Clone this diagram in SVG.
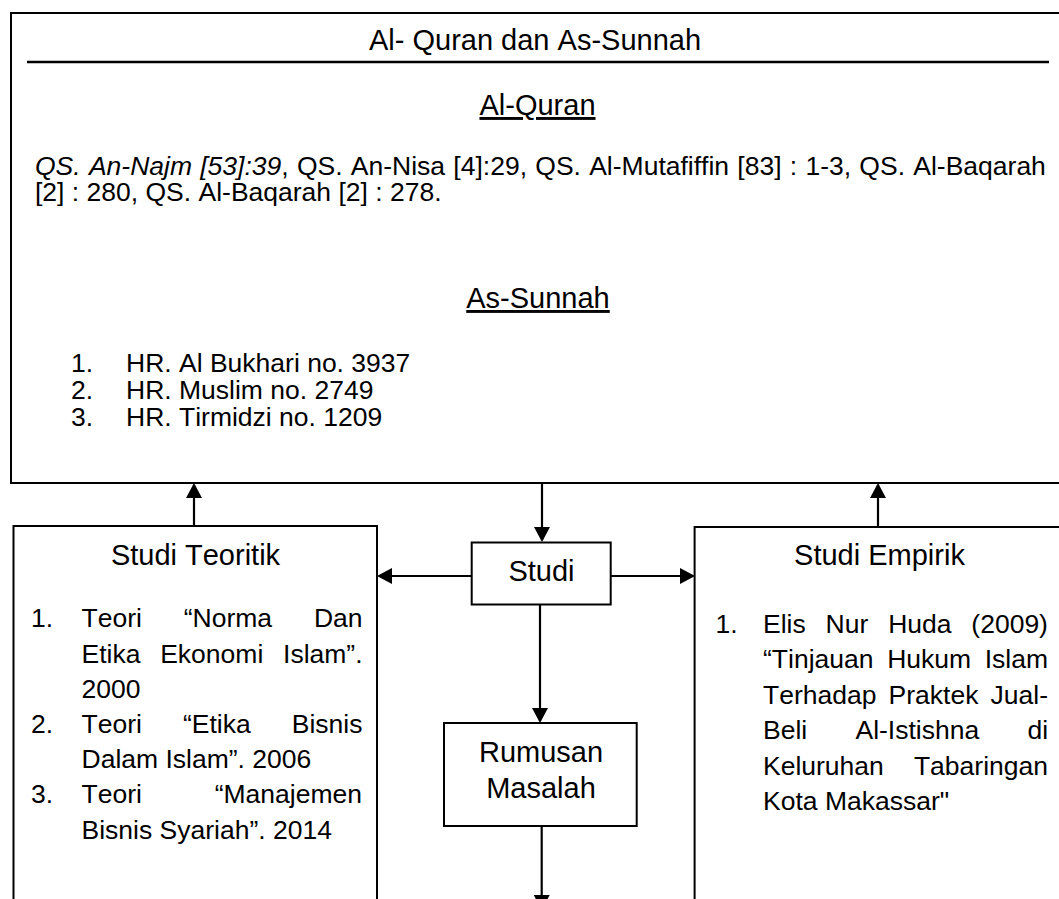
<svg xmlns="http://www.w3.org/2000/svg" width="1059" height="899" viewBox="0 0 1059 899">
<style>
text{font-family:"Liberation Sans",Arial,sans-serif;fill:#000;font-kerning:none}
.h{font-size:29px;text-anchor:middle}
.b{font-size:26.5px}
.e{text-anchor:end}
.box{fill:#fff;stroke:#000;stroke-width:2}
.sep{stroke:#000;stroke-width:2.6}
.con{stroke:#000;stroke-width:2.2;fill:none;marker-end:url(#ah)}
</style>
<defs>
<marker id="ah" viewBox="0 0 15 16" refX="13" refY="8" markerWidth="15" markerHeight="16" orient="auto" markerUnits="userSpaceOnUse">
<path d="M0,0 L15,8 L0,16 z" fill="#000"/>
</marker>
</defs>
<rect width="1059" height="899" fill="#fff"/>

<g id="node-quran-sunnah">
<rect class="box" x="11" y="13" width="1052" height="470"/>
<text class="h" x="535" y="50">Al- Quran dan As-Sunnah</text>
<line class="sep" x1="27" y1="62" x2="1049" y2="62"/>
<text class="h" x="537.5" y="115" text-decoration="underline">Al-Quran</text>
<text class="b" x="35" y="175" word-spacing="0.9"><tspan font-style="italic">QS. An-Najm [53]:39</tspan>, QS. An-Nisa [4]:29, QS. Al-Mutafiffin [83] : 1-3, QS. Al-Baqarah</text>
<text class="b" x="35" y="201">[2] : 280, QS. Al-Baqarah [2] : 278.</text>
<text class="h" x="538" y="308" text-decoration="underline">As-Sunnah</text>
<text class="b" x="71" y="372">1.</text>
<text class="b" x="126" y="372">HR. Al Bukhari no. 3937</text>
<text class="b" x="71" y="399">2.</text>
<text class="b" x="126" y="399">HR. Muslim no. 2749</text>
<text class="b" x="71" y="426">3.</text>
<text class="b" x="126" y="426">HR. Tirmidzi no. 1209</text>
</g>

<g id="node-studi-teoritik">
<rect class="box" x="13.5" y="526" width="363.5" height="400"/>
<text class="h" x="195.5" y="565">Studi Teoritik</text>
<text class="b" x="31" y="627">1.</text>
<text class="b" x="81.5" y="627" word-spacing="34.5">Teori “Norma Dan</text>
<text class="b" x="81.5" y="663" word-spacing="12.4">Etika Ekonomi Islam”.</text>
<text class="b" x="81.5" y="698">2000</text>
<text class="b" x="31" y="733">2.</text>
<text class="b" x="81.5" y="733" word-spacing="33.7">Teori “Etika Bisnis</text>
<text class="b" x="81.5" y="768">Dalam Islam”. 2006</text>
<text class="b" x="31" y="803">3.</text>
<text class="b" x="81.5" y="803">Teori</text>
<text class="b e" x="362" y="803">“Manajemen</text>
<text class="b" x="81.5" y="839">Bisnis Syariah”. 2014</text>
</g>

<g id="node-studi">
<rect class="box" x="471.7" y="542.5" width="139" height="62"/>
<text class="h" x="541.5" y="581">Studi</text>
</g>

<g id="node-rumusan">
<rect class="box" x="444" y="723" width="192.7" height="103"/>
<text class="h" x="541" y="762">Rumusan</text>
<text class="h" x="541" y="798">Masalah</text>
</g>

<g id="node-studi-empirik">
<rect class="box" x="694.6" y="527" width="370" height="400"/>
<text class="h" x="879.5" y="565">Studi Empirik</text>
<text class="b" x="715.5" y="633">1.</text>
<text class="b" x="763" y="633" word-spacing="12.5">Elis Nur Huda (2009)</text>
<text class="b" x="763" y="668" word-spacing="6.3">“Tinjauan Hukum Islam</text>
<text class="b" x="763" y="704" word-spacing="4.8">Terhadap Praktek Jual-</text>
<text class="b" x="763" y="739" word-spacing="40.9">Beli Al-Istishna di</text>
<text class="b" x="763" y="775">Keluruhan</text>
<text class="b e" x="1048" y="775">Tabaringan</text>
<text class="b" x="763" y="810">Kota Makassar"</text>
</g>

<g id="connectors">
<line class="con" x1="194" y1="526" x2="194" y2="485"/>
<line class="con" x1="542" y1="483" x2="542" y2="540"/>
<line class="con" x1="878" y1="527" x2="878" y2="485"/>
<line class="con" x1="471.7" y1="576" x2="379" y2="576"/>
<line class="con" x1="610.7" y1="576" x2="693" y2="576"/>
<line class="con" x1="540" y1="604.5" x2="540" y2="721"/>
<line class="con" x1="541.7" y1="826" x2="541.7" y2="908"/>
</g>
</svg>
